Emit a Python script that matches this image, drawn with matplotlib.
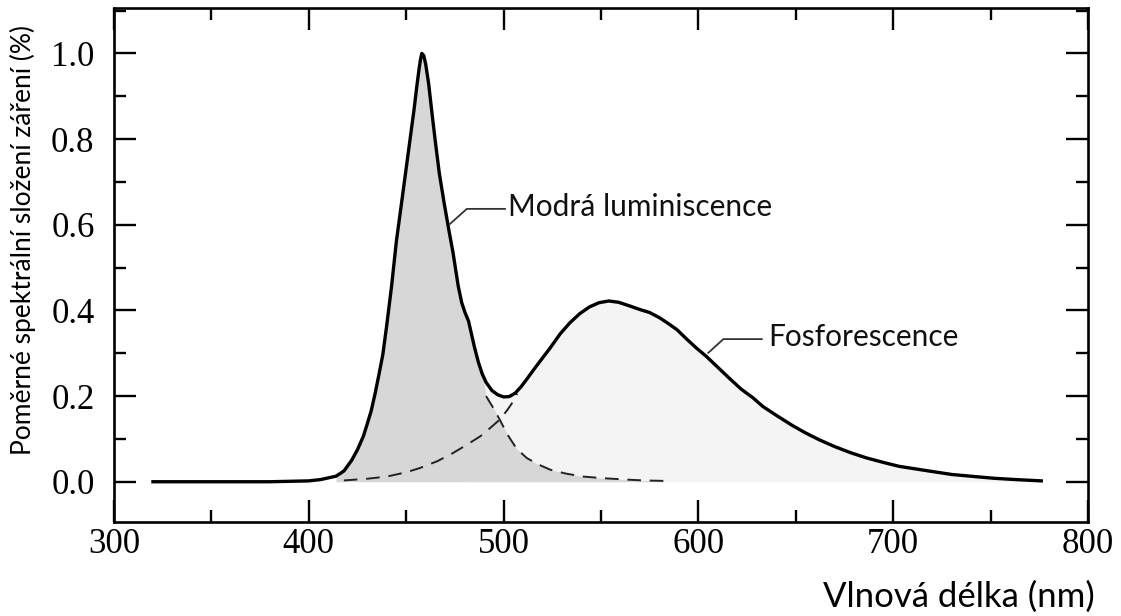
import numpy as np
import matplotlib
matplotlib.use("Agg")
import matplotlib.pyplot as plt
from matplotlib.ticker import MultipleLocator

# total emission spectrum (solid line)
wl_total = [320, 350, 380, 400, 406, 410, 414, 418, 422, 425, 428, 430, 432, 434,
            436, 438, 440, 442.5, 445, 447, 449.5, 452, 454, 455.5, 456.5, 457.3,
            458, 459, 460, 461.5, 463, 464.8, 467, 469.5, 472, 474, 476.7, 478.5,
            480.2, 482, 483.5, 485, 487, 489, 491, 494, 497, 500, 503, 506, 509,
            512, 516, 520, 524, 529, 534, 539, 544, 549, 554, 559, 565, 570, 575,
            580, 584, 589, 594, 599, 604, 610, 616, 622, 628, 633, 640, 648, 655,
            662, 670, 678, 686, 695, 703, 717, 730, 742, 752, 763, 776]
val_total = [0.0, 0.0, 0.0, 0.002, 0.005, 0.009, 0.013, 0.025, 0.05, 0.075, 0.106,
             0.135, 0.165, 0.205, 0.25, 0.297, 0.365, 0.457, 0.563, 0.63, 0.715,
             0.80, 0.868, 0.925, 0.96, 0.985, 1.0, 0.995, 0.975, 0.93, 0.87, 0.80,
             0.72, 0.65, 0.585, 0.536, 0.457, 0.418, 0.395, 0.375, 0.345, 0.315,
             0.28, 0.252, 0.232, 0.213, 0.203, 0.198, 0.199, 0.207, 0.222, 0.24,
             0.265, 0.289, 0.313, 0.345, 0.371, 0.392, 0.408, 0.418, 0.422, 0.419,
             0.41, 0.402, 0.395, 0.383, 0.371, 0.355, 0.333, 0.312, 0.293, 0.267,
             0.241, 0.216, 0.196, 0.176, 0.155, 0.132, 0.114, 0.098, 0.082, 0.068,
             0.056, 0.045, 0.036, 0.026, 0.017, 0.012, 0.008, 0.005, 0.002]

# blue luminescence tail (dashed)
wl_blue = [491, 495, 498, 502, 506.7, 512, 518, 524, 532, 541, 552, 563, 572, 582]
val_blue = [0.2, 0.17, 0.145, 0.11, 0.077, 0.055, 0.04, 0.028, 0.019, 0.012,
            0.008, 0.005, 0.003, 0.002]

# phosphorescence rising edge (dashed)
wl_phos = [418, 430, 440, 450, 457, 466, 474, 481, 488, 493, 498, 502, 505, 507]
val_phos = [0.003, 0.007, 0.012, 0.022, 0.032, 0.048, 0.067, 0.086, 0.106, 0.125,
            0.145, 0.168, 0.188, 0.205]

wl_total = np.array(wl_total)
val_total = np.array(val_total)

fig = plt.figure(figsize=(11.21, 6.16), dpi=100)
ax = fig.add_axes([114/1121, 94/616, 974/1121, 514/616])

# shaded areas
m = wl_total >= 480
ax.fill_between(wl_total[m], 0, val_total[m], color='#f4f4f4', lw=0)
m = (wl_total >= 414) & (wl_total < 491)
gx = np.concatenate([wl_total[m], wl_blue])
gy = np.concatenate([val_total[m], val_blue])
ax.fill_between(gx, 0, gy, color='#d7d7d7', lw=0)

ax.plot(wl_blue, val_blue, color='#222222', lw=1.4, ls=(0, (7, 4.5)))
ax.plot(wl_phos, val_phos, color='#222222', lw=1.4, ls=(0, (7, 4.5)))
ax.plot(wl_total, val_total, color='black', lw=2.4, solid_joinstyle='round')

# leaders + labels
lab_font = 'Lato'
ax.plot([472.5, 481.1, 500.7], [0.602, 0.637, 0.637], color='#333333', lw=1.3)
ax.text(502.3, 0.621, 'Modrá luminiscence', fontsize=21.5, family=lab_font,
        va='baseline', ha='left', color='#111111')
ax.plot([605.1, 612.8, 632.5], [0.301, 0.333, 0.333], color='#333333', lw=1.3)
ax.text(635.9, 0.317, 'Fosforescence', fontsize=21.5, family=lab_font,
        va='baseline', ha='left', color='#111111')

ax.set_xlim(300, 800)
ax.set_ylim(-0.094, 1.106)
ax.xaxis.set_major_locator(MultipleLocator(100))
ax.xaxis.set_minor_locator(MultipleLocator(50))
ax.yaxis.set_major_locator(MultipleLocator(0.2))
ax.yaxis.set_minor_locator(MultipleLocator(0.1))
ax.set_yticks([0.0, 0.2, 0.4, 0.6, 0.8, 1.0])
ax.set_yticklabels(['0.0', '0.2', '0.4', '0.6', '0.8', '1.0'])

ax.tick_params(which='both', direction='in', top=True, right=True, width=1.7,
               color='black')
ax.tick_params(which='major', length=16)
ax.tick_params(which='minor', length=8.5)
ax.tick_params(axis='y', pad=14)
ax.tick_params(axis='x', pad=4)
for lbl in ax.get_xticklabels() + ax.get_yticklabels():
    lbl.set_family('Liberation Serif')
    lbl.set_fontsize(25)
for s in ax.spines.values():
    s.set_linewidth(1.9)

fig.text(23/1121, 1 - 240/616, 'Poměrné spektrální složení záření (%)',
         rotation=90, ha='center', va='center', fontsize=19, family=lab_font)
fig.text(1095/1121, 1 - 597/616, 'Vlnová délka (nm)', ha='right', va='center',
         fontsize=25, family=lab_font)

fig.savefig('out.png', dpi=100)
